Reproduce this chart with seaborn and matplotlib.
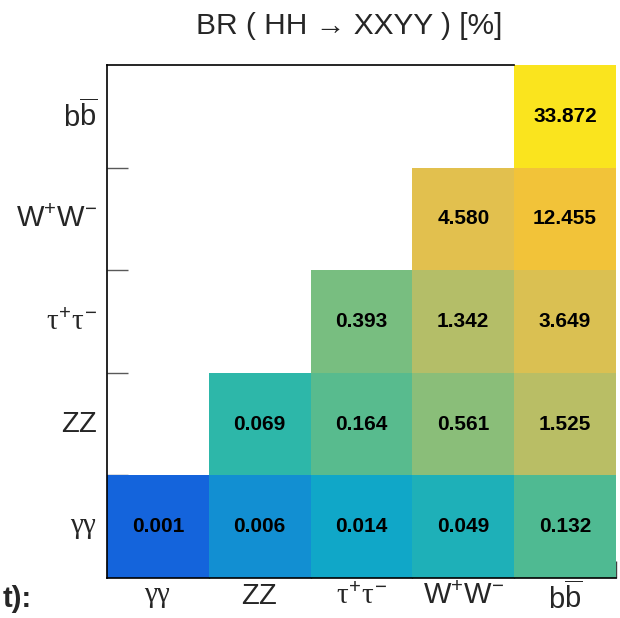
import numpy as np
import pandas as pd
import matplotlib
matplotlib.use("Agg")
import matplotlib.pyplot as plt
from matplotlib.colors import LinearSegmentedColormap, LogNorm
import seaborn as sns

# Decay channels; rows are listed bottom-to-top
x_labels = [r"$\gamma\gamma$", r"$\mathrm{ZZ}$", r"$\tau^{+}\tau^{-}$",
            r"$\mathrm{W^{+}W^{-}}$", r"$\mathrm{b\overline{b}}$"]
y_labels = x_labels

# Branching ratios [%] per row (row channel vs. column channel); NaN = not filled
br_gg = [0.001, 0.006, 0.014, 0.049, 0.132]
br_zz = [np.nan, 0.069, 0.164, 0.561, 1.525]
br_tt = [np.nan, np.nan, 0.393, 1.342, 3.649]
br_ww = [np.nan, np.nan, np.nan, 4.580, 12.455]
br_bb = [np.nan, np.nan, np.nan, np.nan, 33.872]

title = "BR ( HH → XXYY ) [%]"

sns.set_style("white")
plt.rcParams["font.family"] = ["Liberation Sans", "DejaVu Sans"]
plt.rcParams["mathtext.fontset"] = "custom"
plt.rcParams["mathtext.rm"] = "Liberation Sans"
plt.rcParams["mathtext.it"] = "Liberation Serif"
plt.rcParams["mathtext.bf"] = "Liberation Sans:bold"

rows_top_down = [br_bb, br_ww, br_tt, br_zz, br_gg]
df = pd.DataFrame(rows_top_down, index=y_labels[::-1], columns=x_labels)

# Bird-like palette on a logarithmic z scale
bird = LinearSegmentedColormap.from_list("bird", [
    (0.000, "#1464dc"),
    (0.172, "#1290d2"),
    (0.253, "#10a8c8"),
    (0.373, "#1eb0b8"),
    (0.406, "#2eb8a8"),
    (0.468, "#50ba92"),
    (0.573, "#78be80"),
    (0.690, "#b4be68"),
    (0.808, "#e2c04e"),
    (0.904, "#f2c23a"),
    (1.000, "#fae41e"),
])
vals = np.array(rows_top_down, dtype=float)
norm = LogNorm(vmin=np.nanmin(vals), vmax=np.nanmax(vals))

fig = plt.figure(figsize=(6.2, 6.18), dpi=100)
ax = fig.add_axes([0.1726, 0.0647, 0.8209, 0.8301])

sns.heatmap(df, ax=ax, cmap=bird, norm=norm, cbar=False,
            annot=True, fmt=".3f",
            annot_kws={"fontsize": 15, "fontweight": "bold", "color": "black"})

# Frame: left and bottom full, top only over the empty region
for side in ["left", "bottom", "top"]:
    ax.spines[side].set_visible(True)
    ax.spines[side].set_color("black")
    ax.spines[side].set_linewidth(1.2)
ax.spines["right"].set_visible(False)
ax.spines["top"].set_bounds(0, 4)

ax.tick_params(axis="both", which="major", length=0, labelsize=21)
ax.tick_params(axis="y", which="major", pad=7, rotation=0)
ax.tick_params(axis="x", which="major", pad=3, rotation=0)
ax.set_xticks(np.arange(len(x_labels)) + 0.5)
ax.set_xticklabels(x_labels)
ax.set_yticks(np.arange(len(y_labels)) + 0.5)
ax.set_yticklabels(y_labels[::-1])
for lab in ax.get_yticklabels():
    lab.set_horizontalalignment("right")

# Short inward ticks on the bin boundaries
ax.set_xticks(np.arange(0, len(x_labels) + 1), minor=True)
ax.set_yticks(np.arange(1, len(y_labels)), minor=True)
ax.tick_params(axis="y", which="minor", direction="in", length=15,
               width=1, color="0.35", left=True)
ax.tick_params(axis="x", which="minor", direction="in", length=12,
               width=1, color="0.25", bottom=True)
ax.set_xlabel("")
ax.set_ylabel("")

fig.text(0.563, 0.945, title, ha="center", va="baseline", fontsize=21.5)
fig.text(0.004, 0.008, "t):", ha="left", va="bottom",
         fontsize=21, fontweight="bold")

fig.savefig("out.png", dpi=100)
